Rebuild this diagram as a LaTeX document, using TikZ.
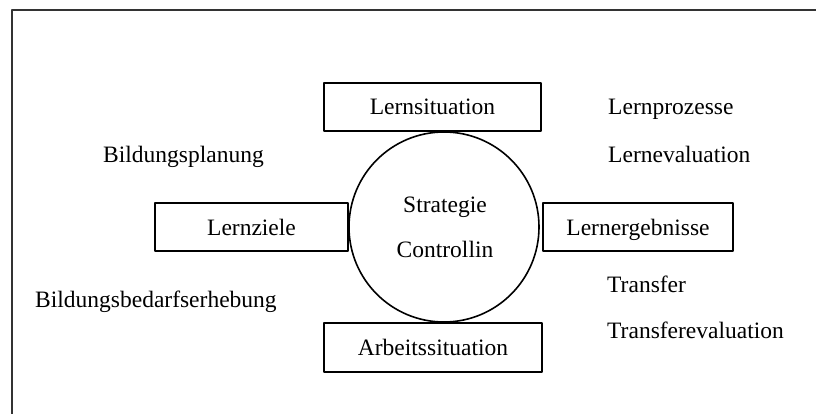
\documentclass[tikz,border=0pt]{standalone}
\usepackage{fontspec}
\setmainfont{Liberation Serif}
\begin{document}
\begin{tikzpicture}[x=1pt,y=-1pt, font=\fontsize{23.5}{28}\selectfont, line cap=round, line join=round,
  box/.style={draw=black,line width=1.6pt,inner sep=0pt,outer sep=0pt,minimum height=48pt,text height=16pt,text depth=0pt},
  lbl/.style={anchor=base west,inner sep=0pt}]
\useasboundingbox (0,0) rectangle (816,414);
% frame, cut at right and bottom
\draw[draw=black!80,line width=2pt,line cap=butt] (11.5,414) -- (11.5,10) -- (816,10);
% centre circle
\node[draw=black,line width=1.6pt,circle,minimum size=190pt,inner sep=0pt] (ctrl) at (444,227) {};
\node[anchor=base,inner sep=0pt] (strat) at (445,212) {Strategie};
\node[anchor=base,inner sep=0pt] (contr) at (445,257) {Controllin};
% four boxes round the circle
\node[box,minimum width=217pt] (situ) at (432.5,107) {Lernsituation};
\node[box,minimum width=193pt] (ziele) at (251.5,227) {Lernziele};
\node[box,minimum width=190pt] (ergeb) at (638,227) {Lernergebnisse};
\node[box,minimum width=218pt,minimum height=49pt] (arbeit) at (433,347.5) {Arbeitssituation};
% side labels
\node[lbl] (prozess) at (608,115) {Lernprozesse};
\node[lbl] (leval) at (608,163) {Lernevaluation};
\node[lbl] (planung) at (103,163) {Bildungsplanung};
\node[lbl] (bedarf) at (35,307) {Bildungsbedarfserhebung};
\node[lbl] (transfer) at (607,292) {Transfer};
\node[lbl] (teval) at (607,338) {Transferevaluation};
\end{tikzpicture}
\end{document}
